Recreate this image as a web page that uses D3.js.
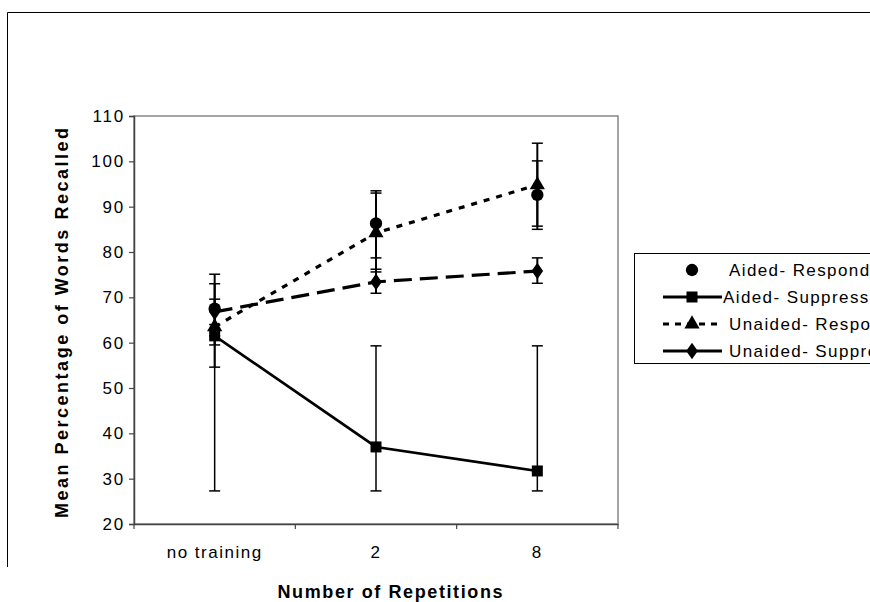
<!DOCTYPE html>
<html><head><meta charset="utf-8">
<script src="https://cdn.jsdelivr.net/npm/d3@7"></script>
<style>body{margin:0;background:#fff}svg{display:block;font-family:Arial,"Liberation Sans",sans-serif}</style>
</head><body><svg id="c" width="870" height="602"></svg>
<script>
const categories = ["no training", "2", "8"];
const yTicks = [20, 30, 40, 50, 60, 70, 80, 90, 100, 110];
const seriesNames = ["Aided- Respond", "Aided- Suppress", "Unaided- Respond", "Unaided- Suppress"];
const aidedRespond = [67.5, 86.3, 92.6];
const aidedRespondHi = [75.1, 93.5, 100.1];
const aidedRespondLo = [59.5, 78.7, 85.0];
const aidedSuppress = [61.5, 37.0, 31.7];
const aidedSuppressHi = [61.5, 59.3, 59.3];
const aidedSuppressLo = [27.3, 27.3, 27.3];
const unaidedRespond = [63.5, 84.2, 94.8];
const unaidedRespondHi = [73.0, 93.0, 104.0];
const unaidedRespondLo = [54.6, 75.6, 85.7];
const unaidedSuppress = [66.8, 73.4, 75.8];
const unaidedSuppressHi = [69.6, 76.2, 78.7];
const unaidedSuppressLo = [64.0, 70.9, 73.1];

const series = [
  {name: seriesNames[0], v: aidedRespond, hi: aidedRespondHi, lo: aidedRespondLo, line: false, dash: null, sym: "circle", ew: 2},
  {name: seriesNames[1], v: aidedSuppress, hi: aidedSuppressHi, lo: aidedSuppressLo, line: true, dash: null, sym: "square", ew: 1.5},
  {name: seriesNames[2], v: unaidedRespond, hi: unaidedRespondHi, lo: unaidedRespondLo, line: true, dash: "6,7", sym: "triangle", ew: 2},
  {name: seriesNames[3], v: unaidedSuppress, hi: unaidedSuppressHi, lo: unaidedSuppressLo, line: true, dash: "18,8", sym: "diamond", ew: 2}
];

const FONT = "Arial, 'Liberation Sans', sans-serif";
const svg = d3.select("#c");
const L = 134, R = 618, T = 116, B = 524;
const x = d3.scaleBand().domain(categories).range([L, R]).padding(0);
const y = d3.scaleLinear().domain([20, 110]).range([B, T]);
const cx = c => x(c) + x.bandwidth() / 2;

// outer frame
svg.append("path").attr("d", `M7.5,567V12.5H870`).attr("fill", "none").attr("stroke", "#000").attr("stroke-width", 1);

// plot area border
svg.append("rect").attr("x", L).attr("y", T).attr("width", R - L).attr("height", B - T)
  .attr("fill", "none").attr("stroke", "#888").attr("stroke-width", 1.5);

// y axis
const ya = svg.append("g").attr("transform", `translate(${L},0)`)
  .call(d3.axisLeft(y).tickValues(yTicks).tickSize(5).tickPadding(4));
ya.select(".domain").attr("stroke", "#444").attr("stroke-width", 1.5);
ya.selectAll(".tick line").attr("stroke", "#444").attr("stroke-width", 1.2);
ya.selectAll("text").attr("font-size", 17).attr("fill", "#000").attr("font-family", FONT).attr("letter-spacing", "1.8px");

// x axis
const xa = svg.append("g").attr("transform", `translate(0,${B})`)
  .call(d3.axisBottom(x).tickSize(0).tickPadding(22));
xa.select(".domain").attr("stroke", "#444").attr("stroke-width", 1.5);
xa.selectAll("text").attr("font-size", 17).attr("fill", "#000").attr("font-family", FONT).attr("letter-spacing", "1.5px");
const bounds = categories.map(c => x(c)).concat([x(categories[categories.length - 1]) + x.bandwidth()]);
svg.append("g").selectAll("line").data(bounds).join("line")
  .attr("x1", d => d).attr("x2", d => d).attr("y1", B).attr("y2", B + 5)
  .attr("stroke", "#444").attr("stroke-width", 1.2);

// titles
svg.append("text").attr("x", 390).attr("y", 598).attr("text-anchor", "middle")
  .attr("font-size", 18).attr("font-weight", "bold").attr("textLength", 225).attr("lengthAdjust", "spacing")
  .text("Number of Repetitions");
svg.append("text").attr("transform", `translate(68,323) rotate(-90)`).attr("text-anchor", "middle")
  .attr("font-size", 18).attr("font-weight", "bold").attr("textLength", 390).attr("lengthAdjust", "spacing")
  .text("Mean Percentage of Words Recalled");

const symGen = {
  circle: d3.symbol(d3.symbolCircle, 120),
  square: d3.symbol(d3.symbolSquare, 121),
  triangle: d3.symbol(d3.symbolTriangle, 100),
  diamond: d3.symbol(d3.symbolDiamond, 80)
};

const plot = svg.append("g");
// error bars
series.forEach(s => {
  const g = plot.append("g");
  categories.forEach((c, i) => {
    const X = cx(c);
    g.append("line").attr("x1", X).attr("x2", X).attr("y1", y(s.hi[i])).attr("y2", y(s.lo[i]))
      .attr("stroke", "#000").attr("stroke-width", s.ew);
    [s.hi[i], s.lo[i]].forEach(v => {
      g.append("line").attr("x1", X - 5.5).attr("x2", X + 5.5).attr("y1", y(v)).attr("y2", y(v))
        .attr("stroke", "#000").attr("stroke-width", 1.5);
    });
  });
});
// lines
const line = d3.line().x((d, i) => cx(categories[i])).y(d => y(d));
series.forEach(s => {
  if (!s.line) return;
  plot.append("path").attr("d", line(s.v)).attr("fill", "none").attr("stroke", "#000")
    .attr("stroke-width", s.dash ? 3.2 : 2.6).attr("stroke-dasharray", s.dash);
});
// markers
series.forEach(s => {
  plot.append("g").selectAll("path").data(s.v).join("path")
    .attr("transform", (d, i) => `translate(${cx(categories[i])},${y(d)})` + (s.sym === "diamond" ? " scale(1.2,1)" : ""))
    .attr("d", symGen[s.sym]()).attr("fill", "#000");
});

// legend
const lg = svg.append("g");
lg.append("rect").attr("x", 634.5).attr("y", 253.5).attr("width", 300).attr("height", 110)
  .attr("fill", "#fff").attr("stroke", "#000").attr("stroke-width", 1);
const legendTextX = [729, 723, 729, 729];
series.forEach((s, i) => {
  const yy = 270 + i * 27;
  if (s.line) {
    lg.append("line").attr("x1", 663).attr("x2", 722).attr("y1", yy).attr("y2", yy)
      .attr("stroke", "#000").attr("stroke-width", 3).attr("stroke-dasharray", s.sym === "triangle" ? "6,6" : null);
  }
  lg.append("path").attr("transform", `translate(692,${yy})` + (s.sym === "diamond" ? " scale(1.2,1)" : ""))
    .attr("d", symGen[s.sym]()).attr("fill", "#000");
  lg.append("text").attr("x", legendTextX[i]).attr("y", yy).attr("dy", "0.36em")
    .attr("font-size", 17).attr("letter-spacing", "1.4px").text(s.name);
});
</script></body></html>
